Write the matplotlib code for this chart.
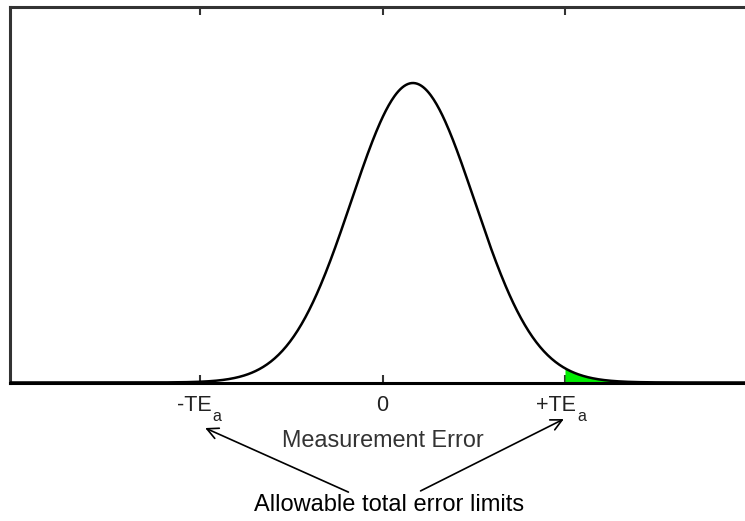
import matplotlib
matplotlib.use('Agg')
import matplotlib.pyplot as plt
import matplotlib.transforms as mtransforms
import numpy as np

plt.rcParams['font.family'] = ['Liberation Sans', 'DejaVu Sans']

# ── Data (x in units of TEa) ────────────────────────────────────────────────
tick_pos    = [-1, 0, 1]
tick_main   = ['-TE', '0', '+TE']
tick_sub    = ['a', '', 'a']
mu, sigma   = 0.167, 0.338     # error distribution (bias, imprecision)
te_limit    = 1.0              # +TEa, start of shaded tail

GREEN = '#00ee00'
SPINE = '#333333'

x = np.linspace(-2.1, 2.1, 800)
pdf = np.exp(-0.5 * ((x - mu) / sigma) ** 2)   # peak-normalised

fig = plt.figure(figsize=(7.45, 5.21), dpi=100)
ax = fig.add_axes([10 / 745, 138.5 / 521, 745 / 745, 375.5 / 521])

ax.plot(x, pdf, color='black', lw=1.8, zorder=3)
tail = x >= te_limit
ax.fill_between(x[tail], 0, pdf[tail], color=GREEN, lw=0, zorder=2)

ax.set_xlim(-2.044, 2.044)
ax.set_ylim(0, 1.2538)

for side in ('top', 'left'):
    ax.spines[side].set_color(SPINE)
    ax.spines[side].set_linewidth(2.2)
ax.spines['bottom'].set_color('black')
ax.spines['bottom'].set_linewidth(2.2)
ax.spines['bottom'].set_zorder(4)
ax.spines['right'].set_visible(False)

ax.set_yticks([])
ax.set_xticks(tick_pos)
ax.set_xticklabels([])
ax.tick_params(axis='x', direction='in', length=6, width=1.5, color=SPINE,
               top=True, bottom=True)


def px(dx, dy):
    # x in data, y at the axis line, shifted by screen pixels
    return mtransforms.offset_copy(ax.get_xaxis_transform(), fig=fig,
                                   x=dx, y=dy, units='dots')


# tick labels with lowered subscript
for pos, main, sub in zip(tick_pos, tick_main, tick_sub):
    if sub:
        ax.text(pos, 0, main, transform=px(11, -28.5), ha='right',
                va='baseline', fontsize=15.5, color='#222222')
        ax.text(pos, 0, sub, transform=px(12.5, -38.5), ha='left',
                va='baseline', fontsize=11.5, color='#222222')
    else:
        ax.text(pos, 0, main, transform=px(0, -28.8), ha='center',
                va='baseline', fontsize=15.5, color='#222222')

ax.text(0, 0, 'Measurement Error', transform=px(0, -64.5), ha='center',
        va='baseline', fontsize=16.8, color='#333333')
ax.text(0, 0, 'Allowable total error limits', transform=px(7, -128.2),
        ha='center', va='baseline', fontsize=17, color='black')

arrow = dict(arrowstyle='->', color='black', lw=1.2, mutation_scale=20,
             shrinkA=0, shrinkB=0)
ax.annotate('', xy=(-0.973, -0.152), xytext=(-0.187, -0.366),
            arrowprops=arrow, annotation_clip=False)
ax.annotate('', xy=(0.995, -0.122), xytext=(0.209, -0.362),
            arrowprops=arrow, annotation_clip=False)

fig.savefig('out.png', dpi=100)
